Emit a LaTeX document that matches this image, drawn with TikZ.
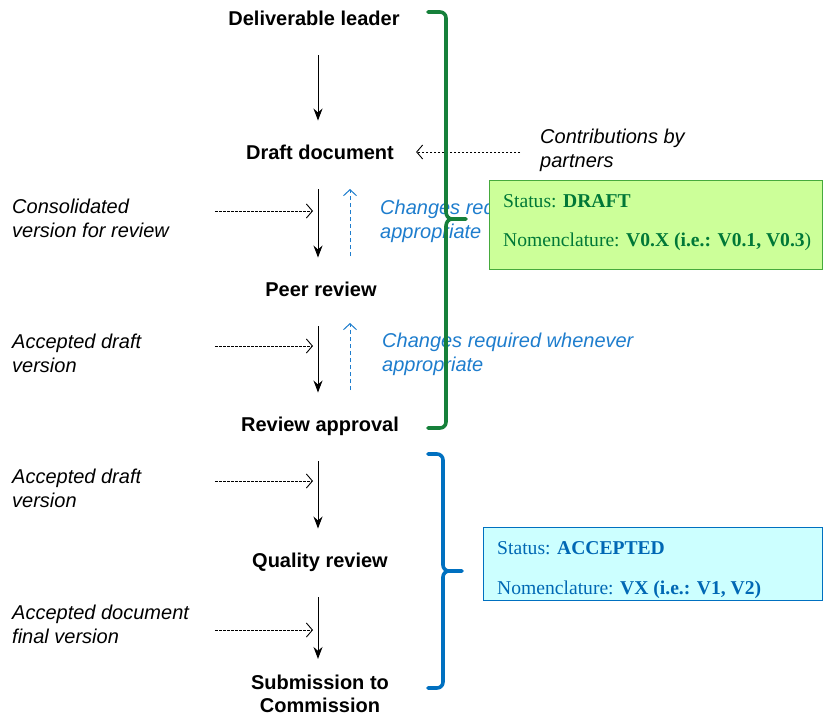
\documentclass[tikz,border=0pt]{standalone}
\usepackage{fontspec}
\setmainfont{Liberation Sans}
\newfontfamily\boxfont{Liberation Serif}
\usetikzlibrary{arrows.meta}

\definecolor{bracegreen}{RGB}{22,128,58}
\definecolor{draftfill}{RGB}{204,255,153}
\definecolor{draftline}{RGB}{70,170,60}
\definecolor{drafttext}{RGB}{0,120,55}
\definecolor{braceblue}{RGB}{0,112,192}
\definecolor{acceptfill}{RGB}{204,255,255}
\definecolor{accepttext}{RGB}{0,104,180}
\definecolor{loopblue}{RGB}{30,125,205}

\tikzset{
  stepfont/.style={font=\fontsize{20}{23}\selectfont\bfseries, align=center,
    inner sep=0pt},
  stepnode/.style={stepfont, text height=14.5pt, text depth=4pt},
  notetext/.style={font=\fontsize{20}{23.5}\selectfont\itshape, align=left,
    inner sep=0pt, anchor=north west},
  looptext/.style={notetext, text=loopblue},
  flow/.style={-{Stealth[length=12pt,width=9pt]}, line width=1pt,
    shorten <=26pt, shorten >=24pt},
  feed/.style={-{Straight Barb[length=6pt,width=14pt]}, line width=0.9pt,
    dash pattern=on 2.5pt off 1.5pt},
  loopback/.style={-{Straight Barb[length=6pt,width=13pt]}, line width=1pt,
    draw=loopblue, dash pattern=on 4pt off 3pt},
  bracket/.style={line width=3.6pt, line cap=round, line join=round},
  statusbox/.style={line width=1pt},
  statustext/.style={font=\boxfont\fontsize{19.6}{22}\selectfont, anchor=west,
    inner sep=0pt}
}

\begin{document}
\begin{tikzpicture}[x=1pt,y=-1pt]
\useasboundingbox (0,0) rectangle (823,715);

% main workflow steps
\node[stepnode] (lead)    at (314,20)  {Deliverable leader};
\node[stepnode] (draft)   at (320,154) {Draft document};
\node[stepnode] (peer)    at (321,291) {Peer review};
\node[stepnode] (approve) at (320,426) {Review approval};
\node[stepnode] (quality) at (320,562) {Quality review};
\node[stepfont] (submit)  at (320,694) {Submission to\\Commission};

% downward flow
\draw[flow] (lead.south -| 318,0)    -- (draft.north -| 318,0);
\draw[flow] (draft.south -| 318,0)   -- (peer.north -| 318,0);
\draw[flow] (peer.south -| 318,0)    -- (approve.north -| 318,0);
\draw[flow] (approve.south -| 318,0) -- (quality.north -| 318,0);
\draw[flow, shorten >=16pt] (quality.south -| 318,0) -- (submit.north -| 318,0);

% inputs from the side
\node[notetext] (contrib) at (540,129) {Contributions by\\partners};
\coordinate (contribstart) at (520,152);
\draw[feed] (contribstart) -- (draft.east |- contribstart) [shorten >=22pt];

\node[notetext] (consol) at (12,199) {Consolidated\\version for review};
\coordinate (consolA) at (215,211);
\coordinate (consolB) at (313,211);
\draw[feed] (consolA) -- (consolB);

\node[notetext] (accdraftA) at (12,334) {Accepted draft\\version};
\coordinate (accA1) at (215,346);
\coordinate (accA2) at (313,346);
\draw[feed] (accA1) -- (accA2);

\node[notetext] (accdraftB) at (12,469) {Accepted draft\\version};
\coordinate (accB1) at (215,481);
\coordinate (accB2) at (313,481);
\draw[feed] (accB1) -- (accB2);

\node[notetext] (accfinal) at (12,605) {Accepted document\\final version};
\coordinate (fin1) at (215,630);
\coordinate (fin2) at (313,630);
\draw[feed] (fin1) -- (fin2);

% feedback loops
\coordinate (loopAlow) at (350,256);
\coordinate (loopAtop) at (350,189);
\draw[loopback] (loopAlow) -- (loopAtop);
\node[looptext] (changesA) at (380,200) {Changes required whenever\\appropriate};

\coordinate (loopBlow) at (350,390);
\coordinate (loopBtop) at (350,323);
\draw[loopback] (loopBlow) -- (loopBtop);
\node[looptext] (changesB) at (382,333) {Changes required whenever\\appropriate};

% draft phase bracket and status
\draw[bracket, draw=bracegreen] (428,12) -- (440,12) to[out=0,in=90] (446,18)
  -- (446,212) to[out=-90,in=180] (452,219) -- (466,219);
\draw[bracket, draw=bracegreen] (452,219) to[out=180,in=90] (446,226)
  -- (446,422) to[out=-90,in=0] (440,428) -- (428,428);

\draw[statusbox, fill=draftfill, draw=draftline] (489,180) rectangle (822,269);
\node[statustext, text=drafttext] (draftstatus) at (503,201)
  {Status: \textbf{DRAFT}};
\node[statustext, text=drafttext] (draftname) at (503,242)
  {Nomenclature: \textbf{V0.X (i.e.: V0.1, V0.3})};

% accepted phase bracket and status
\draw[bracket, draw=braceblue] (428,454) -- (437,454) to[out=0,in=90] (443,460)
  -- (443,565) to[out=-90,in=180] (449,571) -- (462,571);
\draw[bracket, draw=braceblue] (449,571) to[out=180,in=90] (443,577)
  -- (443,682) to[out=-90,in=0] (437,688) -- (428,688);

\draw[statusbox, fill=acceptfill, draw=braceblue] (483,527) rectangle (822,600);
\node[statustext, text=accepttext] (accstatus) at (497,548)
  {Status: \textbf{ACCEPTED}};
\node[statustext, text=accepttext] (accname) at (497,590)
  {Nomenclature: \textbf{VX (i.e.: V1, V2)}};
\end{tikzpicture}
\end{document}
